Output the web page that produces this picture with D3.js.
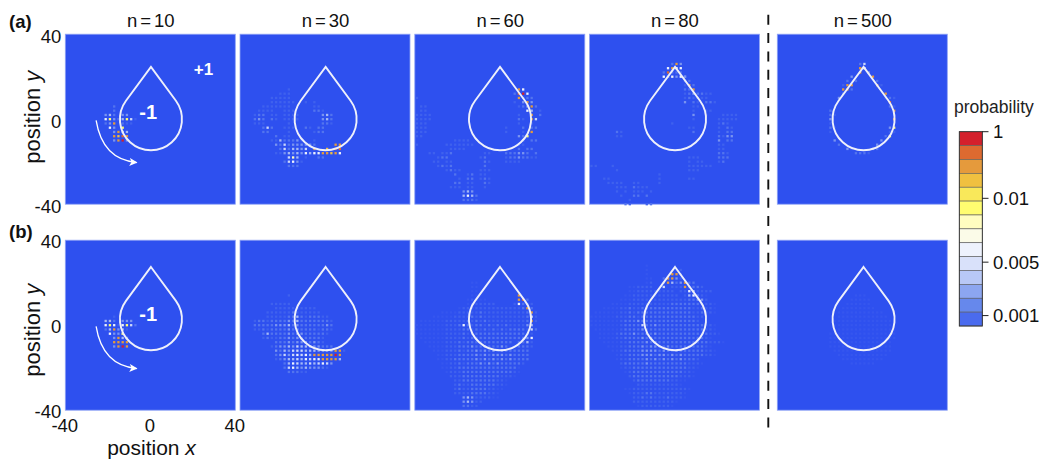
<!DOCTYPE html>
<html><head><meta charset="utf-8">
<script src="https://cdn.jsdelivr.net/npm/d3@7"></script>
<style>html,body{margin:0;background:#fff}svg{display:block;font-family:"Liberation Sans",Arial,sans-serif}</style>
</head><body><svg id="c" width="1045" height="459"></svg>
<script>
// Sampled probability cells. Row format "y:x levels; x levels" – levels step +2 in x.
const levelChars = "0123456789abcde";
const dotColors = ["#3556ef","#3f61ee","#5374ee","#7a94f0","#a5b8f5","#ccd7fa","#eef2fd","#fbfbe8","#fffdc0","#fffd70","#f9e85a","#f0c040","#e59a3c","#dd6a30","#d4202c"];
const legendLevels = ["e","d","c","b","a","9","8","7","6","5","4","3","2","1"];
const legendColors = ["#d4202c","#dd6a30","#e59a3c","#f0c040","#f9e85a","#fffd70","#fffdc0","#fbfbe8","#eef2fd","#d9e1fa","#b8c8f6","#8ca6f0","#6688ec","#4a6bee"];
const legendTickLabels = ["1","0.01","0.005","0.001"];
const legendTickBands = [0,4.8,9.4,13.25];
const panelTitles = ["n=10","n=30","n=60","n=80","n=500"];
const axisTicks = [-40,0,40];

const cellsA10 = ["6:-17 2","4:-17 2","2:-21 342; -13 33","0:-21 6932; -13 4951","-2:-21 23c; -13 211","-4:-19 63; -13 9","-6:-17 3c44","-8:-17 cbdc","-10:-17 3ce3"];
const cellsB10 = ["4:-17 1","2:-21 442; -13 333","0:-21 6961; -13 6952","-2:-21 24c3; -13 41","-4:-19 6332; -13 9","-6:-17 3c43","-8:-17 cccc","-10:-17 3cec"];

const cellsA30 = ["14:-17 1","12:-21 111","10:-25 11111","8:-25 111111; -9 1; -5 1","6:-29 1111111; -5 11","4:-31 1111; -19 111; -5 221","2:-33 122; -25 11; -19 1111; -1 342","0:-33 232; -25 21; -19 1111; -1 342","-2:-33 111; -17 1; -1 221","-4:-29 252; -19 111; -9 21; -3 22","-6:-29 22; -17 1; -5 122","-8:-23 2; -19 11","-10:-25 11422231; -5 1","-12:-23 3252333332; 5 cc","-14:-21 2524435; -5 c; 1 b; 5 dd","-16:-23 1134343; -9 6466ccbc6","-18:-17 584; -9 1; -3 22","-20:-19 25631","-22:-17 222"];
const cellsB30 = ["14:-17 1","10:-25 11111","8:-23 1111111111","6:-27 1111112111111","4:-27 111112242122211","2:-33 1221222232422222221","0:-33 2222233342322222232","-2:-33 1121222232322221221","-4:-29 2422223233222221","-6:-29 121122323222221","-8:-23 222323332321","-10:-25 123343544333222","-12:-23 32435554443333cc1","-14:-23 235356564cccccec","-16:-23 1234454656 6cccc4","-18:-19 246544545653","-20:-19 25643433321","-22:-17 22211"];

const cellsA60 = ["14:9 c6","12:7 2de6","10:-39 1; 9 c222","8:7 1; 11 3c3","6:-37 11; 9 123c2","4:-37 11; 13 64; 19 1","2:-39 1111; 9 1; 15 c; 19 2","0:-39 1111; 9 21; 15 c5","-2:-39 111; 9 1; 15 1","-4:-39 111; 3 1; 11 2; 15 22","-6:-39 111; 3 1; 11 1; 15 c","-8:-39 11; 9 329","-10:-21 1111; 11 2; 15 22","-12:-39 1; -25 1111111; 9 11","-14:-23 1111; 9 2; 13 22","-16:-33 11; -27 112; -7 11; 3 222332; 17 2","-18:-29 122; -9 12; 3 12232211","-20:-31 11; -25 11; -7 21; 3 1111","-22:-29 1212; -7 2","-24:-25 1211; -9 111","-26:-21 2; -15 12; -9 11","-28:-19 1; -15 22; -9 121","-30:-21 22; -15 11; -7 21","-32:-23 111; -15 11; -7 1","-34:-17 343","-36:-17 4642","-38:-17 2221"];
const cellsB60 = ["20:-13 00","18:-13 00","16:-13 00","14:-13 00; 9 c","12:-15 01100; 9 cd2","10:-15 0111111; 7 1; 9 6221","8:-19 0111111111; 1 1111; 9 12c2","6:-27 000011111211111111; 9 112c1","4:-31 00000111121211111111; 9 11251","2:-37 00000011111212121111111; 9 112c1","0:-39 000000011126212212121211; 9 1134","-2:-39 000000011112212121212122; 9 22152","-4:-39 000000011112122222222222; 9 2221","-6:-37 00000011112122222222222; 9 2236","-8:-35 000001112122222222222; 9 2241","-10:-33 0000111222322322232; 7 12221","-12:-31 00011121223232323222222","-14:-29 0011122223232333232222","-16:-29 0011222223232323232222","-18:-27 00112122232323222221","-20:-27 0011222222222222220","-22:-25 011122222222222210","-24:-23 1112222222221110","-26:-21 1122222222110","-28:-21 1211222222110","-30:-21 121122221100","-32:-21 11112222110","-34:-17 343111100","-36:-17 34311","-38:-17 2211"];

const cellsA80 = ["26:-1 2c3","24:-3 6c66","22:-5 2d222","20:-5 636363; 5 3","18:5 22","16:5 1c2","14:5 22c","12:5 12322; 15 11","10:5 12121; 15 1","8:5 3; 9 21; 15 221","6:9 11","4:9 1; 15 11","2:9 3; 15 1; 23 1111","0:9 1; 21 11111","-2:-1 1; 21 121","-4:7 11; 21 1; 25 21","-6:-27 21; 9 2; 21 1; 25 22","-8:-27 11; 21 2133","-10:21 3; 25 22","-12:21 11","-14:21 11","-16:21 221","-18:7 111; 21 222","-20:7 1; 11 11; 21 12","-22:-39 11; -29 1; 7 111111","-24:-27 1; 7 111","-26:-7 1","-28:-33 11; -7 1; 7 11","-30:-31 1111; -19 11; -7 1","-32:-27 111; -19 2111","-34:-27 1; -23 1; -19 111; -11 1","-36:-25 1; -19 22; -13 2","-38:-21 1","-40:-23 21; -13 12"];
const cellsB80 = ["28:-13 0","26:-13 0; 3 1","24:-13 0; -1 cc; 3 1","22:-13 00; -5 2cc31","20:-13 01; -5 2c423c22","18:-21 001111; -5 5; -1 111; 5 c2221","16:-21 00111111111; 3 11641111","14:-23 0011111111111; 5 146210","12:-25 0001111111111111; 7 22331","10:-29 00001111111111222222; 11 22110","8:-33 000011211222222222222112110","6:-37 00000011212222222222222112110","4:-39 0000001112212222222222222110","2:-39 00000001222322222222222221","0:-39 000000012222522322222222222110","-2:-37 00000012222322222222222222110","-4:-35 00001222322323222222222222110","-6:-35 000011222232322222222222210","-8:-33 00001122223232222222222221110","-10:-31 0001122232332232222222210","-12:-29 0012222333323223222222110","-14:-27 011222333233232322222110","-16:-27 01122223232323232221","-18:-25 12222232222222221110","-20:-25 0112222222222222110","-22:-23 01222222222222110","-24:-21 1222222222221110","-26:-19 1222222221100","-28:-17 11111111110","-30:-23 0011111111111110","-32:-21 01112211111110","-34:-19 1121211121110","-36:-19 11111111110","-38:-17 011111110"];

const cellsA500 = ["26:-1 25","24:-1 c6","22:-1 c; 3 3","20:-5 3; 5 c","18:-7 2; -3 2; 7 2","16:-9 1cc; 7 c1","14:-9 cc2","12:-9 2; 11 c","10:-11 3; 11 121","8:13 d","6:-13 1; 13 21","4:-15 2; 15 c","2:-15 21; 15 2","0:-15 3; 15 c","-2:-15 1","-4:-15 21; 13 39","-6:-15 1; 13 11","-8:11 29","-10:-13 3; 9 31","-12:-11 2; 7 31","-14:-7 31; 5 32","-16:-3 2221"];
const cellsB500 = ["14:-3 000","12:-5 00000","10:-7 000000","8:-9 00000000","6:-11 00000000000","4:-11 000000000000","2:-13 00000000000000","0:-13 00000000000000","-2:-13 000000000000000","-4:-15 0000000000000000","-6:-15 0000000000000000","-8:-15 000000000000000","-10:-15 000000000000000","-12:-13 00000000000000","-14:-11 000000000000","-16:-9 0000000000","-18:-5 000000"];

const panelCells = [
  [cellsA10,cellsA30,cellsA60,cellsA80,cellsA500],
  [cellsB10,cellsB30,cellsB60,cellsB80,cellsB500]
];
const panelLefts = [65.3,240,414.8,589.4,777.3];
const rowTops = [34.2,240.2];
const panelSize = 170;
const dropCenterY = [0,2.8];
const dropShiftX = [0.3,0.3,0.1,0.3,0.6];
const dropRadius = 14.6, dropTipAbove = 24.6;
const minusLabelRise = [3.4,2.3];

function parseRows(rows){
  const out=[];
  rows.forEach(r=>{
    const k=r.indexOf(":"), y=+r.slice(0,k);
    r.slice(k+1).split(";").forEach(seg=>{
      const t=seg.trim(), sp=t.indexOf(" ");
      const x0=+t.slice(0,sp), str=t.slice(sp+1).replace(/\s/g,"");
      [...str].forEach((ch,i)=>out.push({x:x0+2*i,y,level:ch}));
    });
  });
  return out;
}
const dotColor=d3.scaleOrdinal([...levelChars],dotColors);
const svg=d3.select("#c");

function scalesFor(r,c){
  return {
    x:d3.scaleLinear().domain([-40,40]).range([panelLefts[c],panelLefts[c]+panelSize]),
    y:d3.scaleLinear().domain([-40,40]).range([rowTops[r]+panelSize,rowTops[r]])
  };
}
function dropPath(x,y,cx,cy){
  const a=Math.acos(dropRadius/dropTipAbove);
  const R=dropRadius*Math.abs(x(1)-x(0));
  const p=d3.path();
  p.moveTo(x(cx),y(cy+dropTipAbove));
  p.lineTo(x(cx+dropRadius*Math.sin(a)),y(cy+dropRadius*Math.cos(a)));
  p.arc(x(cx),y(cy),R,-Math.PI/2+a,-Math.PI/2-a+2*Math.PI,false);
  p.closePath();
  return p.toString();
}
const defs=svg.append("defs");
defs.append("marker").attr("id","ah").attr("viewBox","0 0 10 10").attr("refX",9).attr("refY",5)
  .attr("markerWidth",10).attr("markerHeight",8).attr("markerUnits","userSpaceOnUse").attr("orient","auto")
  .append("path").attr("d","M0,0L10,5L0,10L2.5,5Z").attr("fill","#fff");
defs.append("filter").attr("id","soft").attr("color-interpolation-filters","sRGB")
  .append("feGaussianBlur").attr("stdDeviation",0.3);

panelCells.forEach((row,r)=>row.forEach((rows,c)=>{
  const {x,y}=scalesFor(r,c);
  const g=svg.append("g");
  g.append("rect").attr("x",x(-40)).attr("y",y(40)).attr("width",panelSize).attr("height",panelSize)
    .attr("fill","#2e50ef").attr("stroke","#8fa3f5").attr("stroke-width",0.8);
  const s=2.3;
  g.append("g").attr("filter","url(#soft)").selectAll("rect.cell").data(parseRows(rows)).join("rect").attr("class","cell")
    .attr("x",d=>x(d.x)-s/2).attr("y",d=>y(d.y)-s/2).attr("width",s).attr("height",s).attr("fill",d=>dotColor(d.level));
  g.append("path").attr("d",dropPath(x,y,dropShiftX[c],dropCenterY[r])).attr("fill","none")
    .attr("stroke","#eef0fb").attr("stroke-width",1.9).attr("stroke-linejoin","miter");
  if(c===0){
    g.append("text").attr("x",x(-1)).attr("y",y(dropCenterY[r]+minusLabelRise[r])).attr("text-anchor","middle")
      .attr("fill","#fff").attr("font-weight","bold").attr("font-size",20).attr("dy","0.35em").text("-1");
    const p=d3.path();
    p.moveTo(x(-25.5),y(-0.6));
    p.quadraticCurveTo(x(-22.5),y(-19),x(-6.4),y(-20.4));
    g.append("path").attr("d",p.toString()).attr("fill","none").attr("stroke","#fff").attr("stroke-width",1.3).attr("marker-end","url(#ah)");
    const ya=d3.axisLeft(y).tickValues(axisTicks).tickSize(0).tickPadding(4).tickFormat(d=>String(d));
    const ag=svg.append("g").attr("transform",`translate(${x(-40)},${r?1:2.5})`).call(ya);
    ag.select(".domain").remove();
    ag.selectAll("text").attr("font-size",18.5).attr("font-family","Liberation Sans").attr("fill","#111");
    svg.append("text").attr("transform",`translate(32,${y(0)+(r?5:-2)}) rotate(-90)`).attr("text-anchor","middle").attr("dy","0.35em")
      .attr("font-size",22).attr("fill","#111").html('position <tspan font-style="italic">y</tspan>');
    if(r===1){
      const xa=d3.axisBottom(x).tickValues(axisTicks).tickSize(0).tickPadding(8.5).tickFormat(d=>String(d));
      const bg=svg.append("g").attr("transform",`translate(-1,${y(-40)})`).call(xa);
      bg.select(".domain").remove();
      bg.selectAll("text").attr("font-size",18.5).attr("font-family","Liberation Sans").attr("fill","#111");
      svg.append("text").attr("x",151.5).attr("y",454.5).attr("text-anchor","middle").attr("font-size",21).attr("fill","#111")
        .html('position <tspan font-style="italic">x</tspan>');
    }else{
      g.append("text").attr("x",x(25)).attr("y",y(23.5)).attr("text-anchor","middle").attr("fill","#fff")
        .attr("font-weight","bold").attr("font-size",17).attr("dy","0.35em").text("+1");
    }
  }
  if(r===0){
    const t=svg.append("text").attr("x",x(0)+0.5).attr("y",27).attr("text-anchor","middle").attr("font-size",18.5).attr("fill","#111");
    const label=panelTitles[c];
    t.append("tspan").attr("letter-spacing",3).text(label.slice(0,2));
    t.append("tspan").text(label.slice(2));
  }
}));
["(a)","(b)"].forEach((t,i)=>svg.append("text").attr("x",9).attr("y",i?238:28).attr("font-weight","bold").attr("font-size",18.5).attr("fill","#111").text(t));

svg.append("line").attr("x1",768.3).attr("x2",768.3).attr("y1",14.8).attr("y2",430)
  .attr("stroke","#111").attr("stroke-width",1.9).attr("stroke-dasharray","10 8.3");

// colour bar
const band=d3.scaleBand().domain(legendLevels).range([131.7,326]);
const legendColor=d3.scaleOrdinal(legendLevels,legendColors);
svg.selectAll("rect.lg").data(legendLevels).join("rect").attr("class","lg").attr("x",959.3).attr("width",23)
  .attr("y",d=>band(d)).attr("height",band.bandwidth()).attr("fill",d=>legendColor(d)).attr("stroke","#5a5a5a").attr("stroke-width",0.6);
svg.append("rect").attr("x",959.3).attr("y",131.7).attr("width",23).attr("height",194.3).attr("fill","none").attr("stroke","#333").attr("stroke-width",0.9);
const bandPos=d3.scaleLinear().domain([0,14]).range([131.7,326]);
legendTickLabels.forEach((t,i)=>{
  const py=bandPos(legendTickBands[i]);
  svg.append("line").attr("x1",982).attr("x2",988.5).attr("y1",py).attr("y2",py).attr("stroke","#222").attr("stroke-width",1);
  svg.append("text").attr("x",993).attr("y",py).attr("dy","0.36em").attr("font-size",18.5).attr("fill","#111").text(t);
});
svg.append("text").attr("x",954).attr("y",113).attr("font-size",17.5).attr("fill","#222").text("probability");
</script></body></html>
